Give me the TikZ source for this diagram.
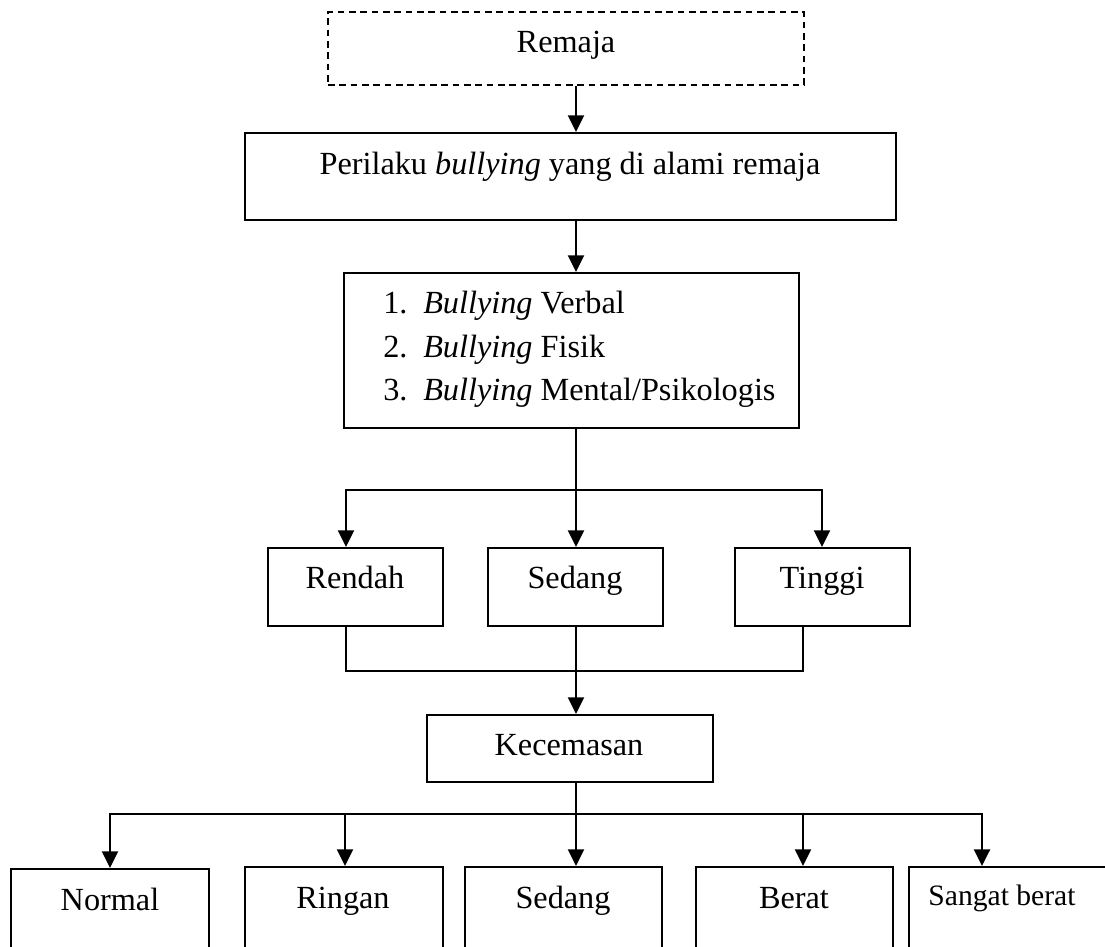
\documentclass[tikz,border=0pt]{standalone}
\usepackage{fontspec}
\setmainfont{Liberation Serif}
\usetikzlibrary{arrows.meta,fit}
\begin{document}
\begin{tikzpicture}[x=0.75pt,y=-0.75pt,
  box/.style={draw, line width=1.5pt, inner sep=0pt},
  dashbox/.style={box, dash pattern=on 5pt off 3.5pt},
  txt/.style={font=\fontsize{24.2}{30}\selectfont, inner sep=0pt, anchor=base},
  smalltxt/.style={txt, font=\fontsize{22.2}{28}\selectfont},
  ln/.style={line width=1.7pt, line cap=rect},
  arr/.style={line width=1.7pt, -{Triangle[width=12pt,length=12.5pt]}}]
\clip (0,0) rectangle (1105,946);
% boxes
\node[dashbox, fit={(328,12)(804,85)}] (remaja) {};
\node[txt] (remajaT) at (566,52) {Remaja};
\node[box, fit={(245,133)(896,220)}] (perilaku) {};
\node[txt] (perilakuT) at (570,174) {Perilaku \textit{bullying} yang di alami remaja};
\node[box, fit={(344,273)(799,428)}] (jenis) {};
\node[txt, anchor=base west] (j1) at (383,313) {\makebox[30pt][l]{1.}\textit{Bullying} Verbal};
\node[txt, anchor=base west] (j2) at (383,357) {\makebox[30pt][l]{2.}\textit{Bullying} Fisik};
\node[txt, anchor=base west] (j3) at (383,400) {\makebox[30pt][l]{3.}\textit{Bullying} Mental/Psikologis};
\node[box, fit={(268,548)(443,626)}] (rendah) {};
\node[txt] (rendahT) at (355,588) {Rendah};
\node[box, fit={(488,548)(663,626)}] (sedangA) {};
\node[txt] (sedangAT) at (575,588) {Sedang};
\node[box, fit={(735,548)(910,626)}] (tinggi) {};
\node[txt] (tinggiT) at (822,588) {Tinggi};
\node[box, fit={(427,715)(713,782)}] (kecemasan) {};
\node[txt] (kecemasanT) at (569,755) {Kecemasan};
\node[box, fit={(11,869)(209,965)}] (normal) {};
\node[txt] (normalT) at (110,910) {Normal};
\node[box, fit={(245,867)(443,965)}] (ringan) {};
\node[txt] (ringanT) at (343,908) {Ringan};
\node[box, fit={(465,867)(662,965)}] (sedangB) {};
\node[txt] (sedangBT) at (563,908) {Sedang};
\node[box, fit={(696,867)(893,965)}] (berat) {};
\node[txt] (beratT) at (794,908) {Berat};
\node[box, fit={(909,867)(1115,965)}] (sangat) {};
\node[smalltxt] (sangatT) at (1002,905) {Sangat berat};
% guide coordinates
\coordinate (cx) at (576,0);
\coordinate (xl) at (346,0);
\coordinate (xr) at (822,0);
\coordinate (xt) at (803,0);
\coordinate (xn) at (110,0);
\coordinate (xri) at (345,0);
\coordinate (xb) at (803,0);
\coordinate (xs) at (982,0);
\coordinate (y1) at (0,490);
\coordinate (y2) at (0,671);
\coordinate (y3) at (0,814);
% connectors
\draw[arr] (remaja.south -| cx) -- (perilaku.north -| cx);
\draw[arr] (perilaku.south -| cx) -- (jenis.north -| cx);
\draw[arr] (jenis.south -| cx) -- (sedangA.north -| cx);
\draw[ln] (y1 -| xl) -- (y1 -| xr);
\draw[arr] (y1 -| xl) -- (rendah.north -| xl);
\draw[arr] (y1 -| xr) -- (tinggi.north -| xr);
\draw[ln] (rendah.south -| xl) -- (y2 -| xl) -- (y2 -| xt) -- (tinggi.south -| xt);
\draw[arr] (sedangA.south -| cx) -- (kecemasan.north -| cx);
\draw[arr] (kecemasan.south -| cx) -- (sedangB.north -| cx);
\draw[ln] (y3 -| xn) -- (y3 -| xs);
\draw[arr] (y3 -| xn) -- (normal.north -| xn);
\draw[arr] (y3 -| xri) -- (ringan.north -| xri);
\draw[arr] (y3 -| xb) -- (berat.north -| xb);
\draw[arr] (y3 -| xs) -- (sangat.north -| xs);
\end{tikzpicture}
\end{document}
